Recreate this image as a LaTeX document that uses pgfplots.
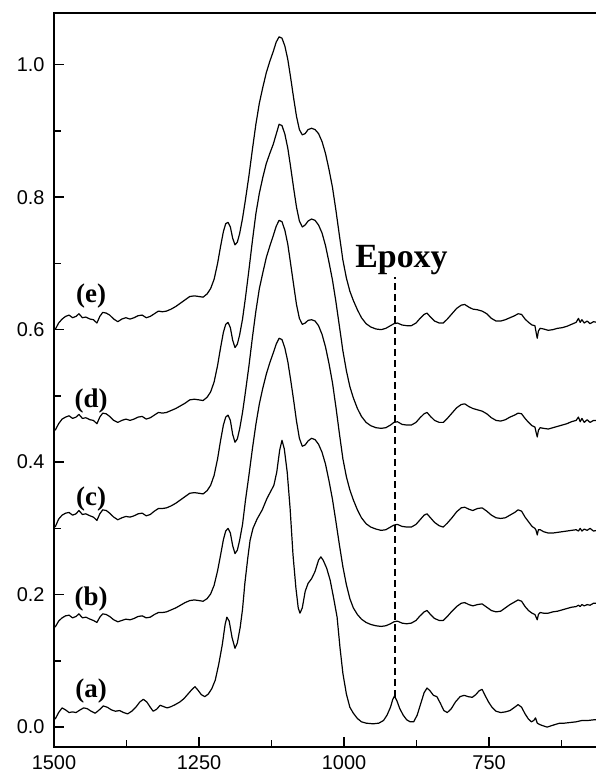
\documentclass[border=0pt]{standalone}
\usepackage{fontspec}
\setmainfont{Liberation Serif}
\newfontfamily\ticksans{Liberation Sans}
\usepackage{pgfplots}
\pgfplotsset{compat=1.18}

\begin{document}
\begin{tikzpicture}
% axis frame (left, bottom, top) drawn first; the axis below sits with its lower-left corner at (0,0)
\fill[black] (-1bp,-1bp) rectangle (1bp,735bp);
\fill[black] (-1bp,-1bp) rectangle (545bp,1bp);
\fill[black] (-1bp,733bp) rectangle (545bp,735bp);
\begin{axis}[
  name=ax,
  at={(0,0)}, anchor=south west,
  scale only axis,
  width=543bp, height=734bp,
  x dir=reverse,
  xmin=564, xmax=1500,
  ymin=-0.03, ymax=1.078,
  axis line style={line width=2bp, black, solid},
  xtick={1500,1250,1000,750},
  minor xtick={1375,1125,875,625},
  ytick={0,0.2,0.4,0.6,0.8,1.0},
  minor ytick={0.1,0.3,0.5,0.7,0.9},
  tick pos=left,
  tick align=inside,
  major tick length=10bp,
  minor tick length=7bp,
  major tick style={line width=1.6bp, black},
  minor tick style={line width=1.6bp, black},
  /pgf/number format/assume math mode=true,
  /pgf/number format/1000 sep={},
  tick label style={font=\ticksans\fontsize{20}{20}\selectfont},
  xticklabel style={yshift=-5bp},
  yticklabel style={xshift=-6bp},
  yticklabel={\pgfmathprintnumber[fixed,fixed zerofill,precision=1]{\tick}},
]
% (a)
\addplot[black, mark=none, line width=1.2bp, line join=round] table {
x y
1498 0.012
1492 0.022
1486 0.029
1480 0.026
1474 0.022
1468 0.023
1462 0.022
1455 0.026
1449 0.029
1443 0.028
1436 0.024
1429 0.021
1422 0.026
1415 0.032
1408 0.030
1401 0.026
1394 0.024
1387 0.025
1380 0.022
1373 0.020
1366 0.024
1359 0.030
1352 0.038
1346 0.042
1340 0.038
1334 0.030
1329 0.024
1323 0.027
1317 0.033
1311 0.031
1305 0.029
1298 0.031
1291 0.034
1283 0.038
1276 0.043
1269 0.050
1262 0.057
1257 0.061
1252 0.056
1246 0.049
1240 0.046
1234 0.050
1228 0.058
1222 0.071
1216 0.095
1210 0.124
1205 0.155
1202 0.166
1198 0.160
1193 0.135
1188 0.119
1184 0.127
1179 0.151
1175 0.178
1171 0.217
1166 0.255
1162 0.282
1157 0.300
1150 0.314
1141 0.328
1133 0.345
1127 0.355
1121 0.365
1116 0.385
1111 0.418
1107 0.433
1103 0.420
1098 0.385
1093 0.330
1088 0.260
1083 0.210
1079 0.180
1076 0.172
1072 0.180
1067 0.205
1062 0.217
1056 0.224
1050 0.235
1044 0.252
1040 0.257
1036 0.252
1030 0.240
1024 0.222
1018 0.195
1012 0.166
1007 0.120
1002 0.081
996 0.050
990 0.030
984 0.021
977 0.013
970 0.008
962 0.006
950 0.005
940 0.006
932 0.010
926 0.018
920 0.030
916 0.042
913 0.047
909 0.040
904 0.028
898 0.018
892 0.011
886 0.008
880 0.008
874 0.018
868 0.035
862 0.052
857 0.059
852 0.055
846 0.048
840 0.046
834 0.036
828 0.025
822 0.022
815 0.028
808 0.038
800 0.046
793 0.048
786 0.046
779 0.045
773 0.049
767 0.055
762 0.057
757 0.048
751 0.038
745 0.030
738 0.024
730 0.022
722 0.023
714 0.025
706 0.030
700 0.034
694 0.030
688 0.020
682 0.012
677 0.008
673 0.010
670 0.014
667 0.006
663 0.004
657 0.002
650 0.000
643 0.002
636 0.004
628 0.006
620 0.006
610 0.007
600 0.008
590 0.010
580 0.010
570 0.011
564 0.011
};
% (b)
\addplot[black, mark=none, line width=1.2bp, line join=round] table {
x y
1498 0.151
1492 0.160
1486 0.165
1480 0.168
1474 0.169
1468 0.165
1462 0.167
1457 0.171
1451 0.165
1445 0.166
1438 0.163
1432 0.161
1426 0.158
1421 0.166
1416 0.171
1410 0.170
1404 0.167
1397 0.162
1390 0.159
1383 0.161
1376 0.163
1369 0.162
1362 0.164
1355 0.167
1348 0.168
1341 0.165
1334 0.166
1327 0.170
1320 0.173
1313 0.173
1306 0.174
1298 0.177
1290 0.180
1282 0.184
1274 0.188
1266 0.191
1258 0.192
1250 0.191
1243 0.190
1236 0.194
1230 0.201
1224 0.214
1218 0.236
1213 0.259
1208 0.283
1204 0.296
1200 0.300
1196 0.293
1192 0.274
1188 0.262
1184 0.267
1180 0.282
1175 0.306
1170 0.342
1164 0.380
1158 0.420
1152 0.457
1146 0.488
1140 0.512
1134 0.533
1128 0.550
1122 0.565
1117 0.578
1112 0.587
1107 0.585
1102 0.572
1097 0.552
1092 0.524
1087 0.494
1082 0.462
1077 0.436
1072 0.424
1067 0.426
1062 0.432
1056 0.436
1050 0.434
1044 0.427
1038 0.415
1032 0.397
1026 0.372
1020 0.344
1014 0.310
1008 0.275
1002 0.242
996 0.215
990 0.194
984 0.180
977 0.170
970 0.163
962 0.158
954 0.155
945 0.153
936 0.152
928 0.153
920 0.156
914 0.159
908 0.160
900 0.157
892 0.156
884 0.157
876 0.161
869 0.168
862 0.174
857 0.176
851 0.170
844 0.164
836 0.161
829 0.161
822 0.167
814 0.175
806 0.182
798 0.187
792 0.188
785 0.185
778 0.183
770 0.185
762 0.186
754 0.181
746 0.176
738 0.174
730 0.175
722 0.180
714 0.185
706 0.189
700 0.192
694 0.190
688 0.182
682 0.176
676 0.172
671 0.170
669 0.166
667 0.162
665 0.170
662 0.173
656 0.172
648 0.172
640 0.174
632 0.175
624 0.177
616 0.179
608 0.181
600 0.182
596 0.184
593 0.182
590 0.185
586 0.183
581 0.185
576 0.184
570 0.187
564 0.187
};
% (c)
\addplot[black, mark=none, line width=1.2bp, line join=round] table {
x y
1498 0.302
1492 0.314
1486 0.320
1480 0.323
1474 0.324
1468 0.320
1462 0.322
1457 0.327
1451 0.321
1445 0.322
1438 0.319
1432 0.317
1426 0.312
1421 0.322
1416 0.328
1410 0.327
1404 0.323
1397 0.317
1390 0.313
1383 0.316
1376 0.318
1369 0.317
1362 0.319
1355 0.322
1348 0.323
1341 0.319
1334 0.321
1327 0.326
1320 0.330
1313 0.330
1306 0.331
1298 0.334
1290 0.338
1282 0.343
1274 0.348
1266 0.353
1258 0.354
1250 0.353
1243 0.352
1236 0.357
1230 0.365
1224 0.380
1218 0.405
1213 0.432
1208 0.456
1204 0.468
1200 0.471
1196 0.463
1192 0.442
1188 0.430
1184 0.435
1180 0.450
1175 0.475
1170 0.506
1164 0.545
1158 0.588
1152 0.628
1146 0.662
1140 0.686
1134 0.709
1128 0.726
1122 0.742
1117 0.756
1112 0.765
1107 0.763
1102 0.750
1097 0.729
1092 0.699
1087 0.668
1082 0.638
1077 0.617
1072 0.608
1067 0.610
1062 0.614
1056 0.615
1050 0.613
1044 0.606
1038 0.593
1032 0.574
1026 0.549
1020 0.520
1014 0.483
1008 0.443
1002 0.405
996 0.378
990 0.358
984 0.343
977 0.328
970 0.316
962 0.307
954 0.302
945 0.299
936 0.297
928 0.298
920 0.302
914 0.305
908 0.306
900 0.303
892 0.302
884 0.302
876 0.306
869 0.313
862 0.320
857 0.322
851 0.316
844 0.309
836 0.304
829 0.302
822 0.308
814 0.316
806 0.325
798 0.331
792 0.332
785 0.329
778 0.327
770 0.330
762 0.331
754 0.326
746 0.320
738 0.316
730 0.315
722 0.316
714 0.320
706 0.324
700 0.328
694 0.326
688 0.317
682 0.310
676 0.303
671 0.300
669 0.297
667 0.290
665 0.298
662 0.298
656 0.295
648 0.293
640 0.293
632 0.294
624 0.295
616 0.296
608 0.297
600 0.298
596 0.296
593 0.300
590 0.296
586 0.299
581 0.297
576 0.300
570 0.296
564 0.297
};
% (d)
\addplot[black, mark=none, line width=1.2bp, line join=round] table {
x y
1498 0.448
1492 0.458
1486 0.465
1480 0.468
1474 0.470
1468 0.466
1462 0.468
1457 0.472
1451 0.466
1445 0.467
1438 0.464
1432 0.463
1426 0.458
1421 0.468
1416 0.474
1410 0.473
1404 0.469
1397 0.463
1390 0.460
1383 0.463
1376 0.465
1369 0.463
1362 0.465
1355 0.468
1348 0.469
1341 0.465
1334 0.467
1327 0.471
1320 0.475
1313 0.474
1306 0.475
1298 0.478
1290 0.481
1282 0.485
1274 0.489
1266 0.494
1258 0.495
1250 0.494
1243 0.493
1236 0.498
1230 0.506
1224 0.521
1218 0.546
1213 0.572
1208 0.596
1204 0.608
1200 0.611
1196 0.603
1192 0.584
1188 0.573
1184 0.578
1180 0.592
1175 0.616
1170 0.648
1164 0.690
1158 0.734
1152 0.775
1146 0.806
1140 0.830
1134 0.851
1128 0.866
1122 0.880
1117 0.895
1112 0.910
1107 0.908
1102 0.895
1097 0.874
1092 0.845
1087 0.814
1082 0.785
1077 0.764
1072 0.755
1067 0.758
1062 0.764
1056 0.767
1050 0.765
1044 0.758
1038 0.746
1032 0.727
1026 0.702
1020 0.675
1014 0.642
1008 0.605
1002 0.568
996 0.538
990 0.514
984 0.497
977 0.481
970 0.469
962 0.460
954 0.455
945 0.452
936 0.451
928 0.452
920 0.456
914 0.460
908 0.461
900 0.457
892 0.456
884 0.456
876 0.460
869 0.467
862 0.473
857 0.475
851 0.469
844 0.463
836 0.460
829 0.460
822 0.466
814 0.474
806 0.482
798 0.487
792 0.488
785 0.484
778 0.481
770 0.479
762 0.477
754 0.473
746 0.467
738 0.463
730 0.462
722 0.464
714 0.468
706 0.471
700 0.474
694 0.473
688 0.466
682 0.460
676 0.455
671 0.453
669 0.445
667 0.438
665 0.448
662 0.452
656 0.451
648 0.450
640 0.452
632 0.454
624 0.456
616 0.458
608 0.461
600 0.463
596 0.468
593 0.461
590 0.466
586 0.460
581 0.464
576 0.460
570 0.463
564 0.463
};
% (e)
\addplot[black, mark=none, line width=1.2bp, line join=round] table {
x y
1498 0.600
1492 0.610
1486 0.616
1480 0.620
1474 0.622
1468 0.618
1462 0.620
1457 0.624
1451 0.618
1445 0.619
1438 0.616
1432 0.615
1426 0.610
1421 0.620
1416 0.626
1410 0.625
1404 0.622
1397 0.616
1390 0.612
1383 0.616
1376 0.618
1369 0.616
1362 0.618
1355 0.621
1348 0.622
1341 0.618
1334 0.620
1327 0.624
1320 0.628
1313 0.627
1306 0.628
1298 0.631
1290 0.635
1282 0.640
1274 0.645
1266 0.650
1258 0.651
1250 0.650
1243 0.649
1236 0.654
1230 0.662
1224 0.676
1218 0.700
1213 0.725
1208 0.748
1204 0.760
1200 0.762
1196 0.755
1192 0.738
1188 0.728
1184 0.732
1180 0.745
1175 0.768
1170 0.796
1164 0.832
1158 0.872
1152 0.910
1146 0.942
1140 0.966
1134 0.988
1128 1.005
1122 1.020
1117 1.034
1112 1.042
1107 1.040
1102 1.028
1097 1.008
1092 0.980
1087 0.950
1082 0.922
1077 0.902
1072 0.894
1067 0.896
1062 0.902
1056 0.904
1050 0.902
1044 0.896
1038 0.884
1032 0.866
1026 0.842
1020 0.815
1014 0.780
1008 0.742
1002 0.705
996 0.678
990 0.658
984 0.644
977 0.630
970 0.618
962 0.609
954 0.604
945 0.601
936 0.600
928 0.602
920 0.606
914 0.609
908 0.610
900 0.607
892 0.606
884 0.606
876 0.610
869 0.617
862 0.623
857 0.625
851 0.619
844 0.613
836 0.610
829 0.610
822 0.616
814 0.624
806 0.632
798 0.637
792 0.638
785 0.634
778 0.631
770 0.630
762 0.628
754 0.624
746 0.617
738 0.613
730 0.613
722 0.615
714 0.618
706 0.621
700 0.624
694 0.623
688 0.616
682 0.611
676 0.607
671 0.606
669 0.596
667 0.587
665 0.598
662 0.602
656 0.601
648 0.599
640 0.600
632 0.602
624 0.603
616 0.605
608 0.608
600 0.611
596 0.617
593 0.611
590 0.615
586 0.610
581 0.613
576 0.609
570 0.612
564 0.611
};
% Epoxy marker line
\addplot[black, mark=none, line width=1.5bp, dash pattern=on 7bp off 4bp] coordinates {(912,0.046) (912,0.680)};
\node[font=\bfseries\fontsize{34}{34}\selectfont, anchor=base] at (axis cs:901,0.694) {Epoxy};
\node[font=\bfseries\fontsize{27}{27}\selectfont] at (axis cs:1436,0.055) {(a)};
\node[font=\bfseries\fontsize{27}{27}\selectfont] at (axis cs:1436,0.194) {(b)};
\node[font=\bfseries\fontsize{27}{27}\selectfont] at (axis cs:1436,0.345) {(c)};
\node[font=\bfseries\fontsize{27}{27}\selectfont] at (axis cs:1436,0.492) {(d)};
\node[font=\bfseries\fontsize{27}{27}\selectfont] at (axis cs:1436,0.651) {(e)};
\end{axis}
\pgfresetboundingbox
\useasboundingbox (-54bp,-29bp) rectangle (541.8bp,747bp);
\end{tikzpicture}
\end{document}
